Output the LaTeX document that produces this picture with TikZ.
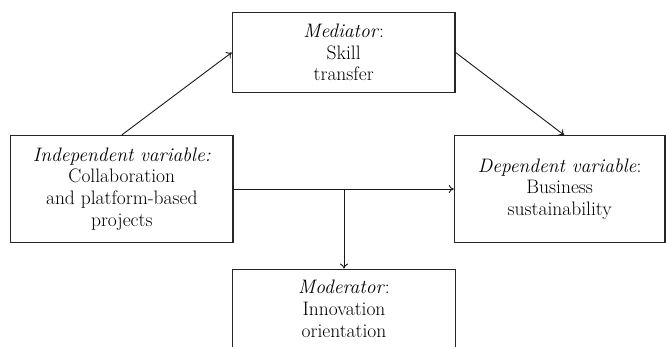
\documentclass[tikz,border=0pt]{standalone}
\usetikzlibrary{arrows.meta,calc}
\begin{document}
\begin{tikzpicture}[x=1pt,y=-1pt,
  box/.style={draw=black!85,line width=1.2pt,rectangle,align=center,inner sep=0pt,
    font=\fontsize{19.5}{21.7}\selectfont},
  conn/.style={draw=black!90,line width=0.9pt,-{To[length=5pt,width=8pt]}}]
\useasboundingbox (0,0) rectangle (666,346);
\fill[white] (0,0) rectangle (666,346);
\node[box,minimum width=222.7pt,minimum height=79.6pt] (med) at (343.7,52.5)
  {\textit{Mediator}:\\Skill\\transfer};
\node[box,minimum width=222.3pt,minimum height=107pt] (ind) at (121.8,189)
  {\textit{Independent variable:}\\Collaboration\\and platform-based\\projects};
\node[box,minimum width=210.7pt,minimum height=106.5pt] (dep) at (559.7,189)
  {\textit{Dependent variable}:\\Business\\sustainability};
\node[box,minimum width=223.7pt,minimum height=79.6pt] (mod) at (344,309)
  {\textit{Moderator}:\\Innovation\\orientation};
\coordinate (j) at (ind.east -| mod.north);
\draw[conn] (ind.north) -- (med.west);
\draw[conn] (med.east) -- ([xshift=4.5pt]dep.north);
\draw[conn] (ind.east) -- (dep.west);
\draw[conn] (j) -- (mod.north);
\end{tikzpicture}
\end{document}
